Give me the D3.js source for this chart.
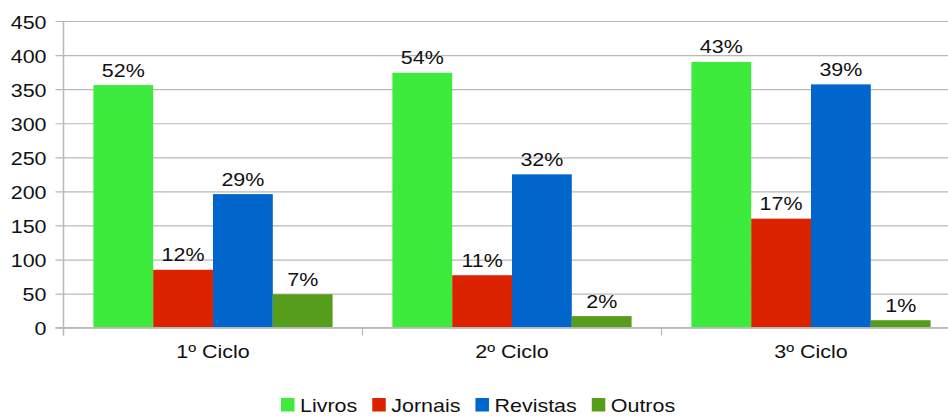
<!DOCTYPE html>
<html>
<head>
<meta charset="utf-8">
<script src="https://cdn.jsdelivr.net/npm/d3@7"></script>
<style>
  html, body { margin: 0; padding: 0; background: #fff; overflow: hidden; }
  svg { display: block; font-family: "Liberation Sans", Arial, sans-serif; }
</style>
</head>
<body>
<svg id="chart" width="948" height="416"></svg>
<script>
// Reading material by school cycle (counts, with share labels)
const categories = ["1º Ciclo", "2º Ciclo", "3º Ciclo"];
const seriesNames = ["Livros", "Jornais", "Revistas", "Outros"];
const livros   = [356, 374, 390];
const jornais  = [85, 77, 160];
const revistas = [196, 225, 357];
const outros   = [49, 17, 11];
const livrosLabels   = ["52%", "54%", "43%"];
const jornaisLabels  = ["12%", "11%", "17%"];
const revistasLabels = ["29%", "32%", "39%"];
const outrosLabels   = ["7%", "2%", "1%"];
const yTicks = [0, 50, 100, 150, 200, 250, 300, 350, 400, 450];
const colors = ["#3deb3d", "#dc2300", "#0066cc", "#579d1c"];

const seriesValues = [livros, jornais, revistas, outros];
const seriesLabels = [livrosLabels, jornaisLabels, revistasLabels, outrosLabels];

const W = 948, H = 416;
const axisX = 63.5, plotRight = 960.5;
const plotTop = 21, plotBottom = 327.7;
const FS = 19, SX = 1.13;        // font size and horizontal text stretch
const textColor = "#111";
const gridColor = "#b8b8b8";

const svg = d3.select("#chart");

const y = d3.scaleLinear().domain([0, 450]).range([plotBottom, plotTop]);
const x = d3.scaleBand().domain(categories).range([axisX, plotRight]).paddingInner(0).paddingOuter(0);
const xs = d3.scaleBand().domain(seriesNames)
  .range([x.bandwidth() * 0.1, x.bandwidth() * 0.9]).paddingInner(0).paddingOuter(0);

// y axis: grid lines, tick stubs and labels
const yAxis = svg.append("g")
  .attr("transform", `translate(${axisX},0)`)
  .call(d3.axisLeft(y).tickValues(yTicks).tickSizeOuter(0).tickSize(8).tickPadding(0));
yAxis.select(".domain").remove();
yAxis.selectAll(".tick line")
  .attr("x1", -8).attr("x2", W - axisX + 20)
  .attr("stroke", gridColor).attr("stroke-width", 1.2);
yAxis.selectAll(".tick text")
  .attr("x", 0).attr("dy", null)
  .attr("dominant-baseline", "central")
  .attr("transform", `translate(-17,0.5) scale(${SX},1)`)
  .attr("font-size", FS).attr("font-family", "Liberation Sans, Arial, sans-serif")
  .attr("fill", textColor).attr("text-anchor", "end");

// bars
const groups = svg.append("g").selectAll("g.cat")
  .data(categories).join("g")
  .attr("class", "cat")
  .attr("transform", d => `translate(${x(d)},0)`);

seriesNames.forEach((name, si) => {
  groups.append("rect")
    .attr("x", xs(name))
    .attr("width", xs.bandwidth())
    .attr("y", (d, ci) => y(seriesValues[si][ci]))
    .attr("height", (d, ci) => y(0) - y(seriesValues[si][ci]))
    .attr("fill", colors[si]);
  groups.append("text")
    .attr("transform", (d, ci) =>
      `translate(${xs(name) + xs.bandwidth() / 2},${y(seriesValues[si][ci]) - 8.5}) scale(${SX},1)`)
    .attr("text-anchor", "middle")
    .attr("font-size", FS)
    .attr("fill", textColor)
    .text((d, ci) => seriesLabels[si][ci]);
});

// x axis: baseline, vertical axis line and category separators
const xAxis = svg.append("g").attr("transform", `translate(0,${plotBottom})`);
xAxis.append("line")
  .attr("x1", axisX - 8).attr("x2", W + 10).attr("y1", 0).attr("y2", 0)
  .attr("stroke", gridColor).attr("stroke-width", 1.5);
svg.append("line")
  .attr("x1", axisX).attr("x2", axisX).attr("y1", plotTop).attr("y2", plotBottom + 8)
  .attr("stroke", gridColor).attr("stroke-width", 1.5);
xAxis.selectAll("line.sep")
  .data(categories.slice(1)).join("line")
  .attr("class", "sep")
  .attr("x1", d => x(d)).attr("x2", d => x(d))
  .attr("y1", 0).attr("y2", 8)
  .attr("stroke", gridColor).attr("stroke-width", 1.2);
xAxis.selectAll("text.cat")
  .data(categories).join("text")
  .attr("class", "cat")
  .attr("transform", d => `translate(${x(d) + x.bandwidth() / 2},30.5) scale(${SX},1)`)
  .attr("text-anchor", "middle")
  .attr("font-size", FS)
  .attr("fill", textColor)
  .text(d => d);

// legend along the bottom edge
const legend = svg.append("g");
let lx = 281;
const legendY = 411.5;
seriesNames.forEach((name, i) => {
  const item = legend.append("g").attr("transform", `translate(${lx},0)`);
  item.append("rect")
    .attr("x", 0).attr("y", legendY - 13.5)
    .attr("width", 13.5).attr("height", 13.5)
    .attr("fill", colors[i]);
  const t = item.append("text")
    .attr("transform", `translate(19,${legendY}) scale(${SX},1)`)
    .attr("font-size", FS)
    .attr("fill", textColor)
    .text(name);
  const w = t.node().getComputedTextLength() * SX;
  lx += 19 + w + 15;
});
</script>
</body>
</html>
